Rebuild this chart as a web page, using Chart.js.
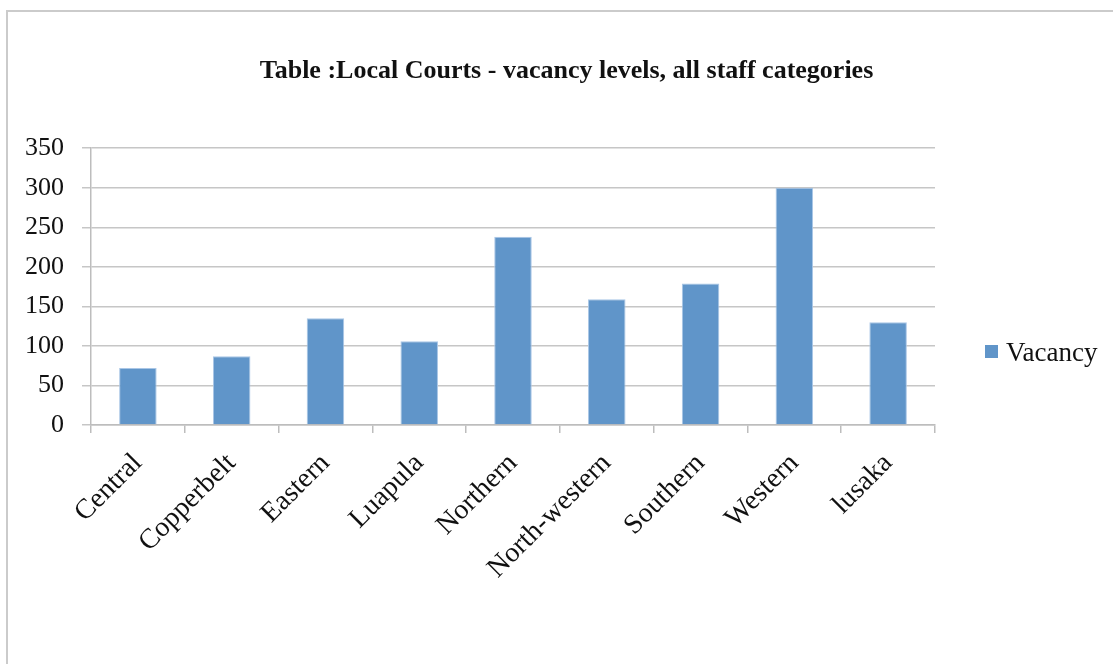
<!DOCTYPE html>
<html>
<head>
<meta charset="utf-8">
<title>Local Courts - vacancy levels</title>
<script src="https://cdn.jsdelivr.net/npm/chart.js@4.4.0/dist/chart.umd.min.js"></script>
<style>
  html, body { margin: 0; padding: 0; background: #fff; }
  #wrap { position: relative; width: 1113px; height: 664px; overflow: hidden; }
  #frame {
    position: absolute; left: 6px; top: 10px; width: 1200px; height: 800px;
    border-top: 2px solid #cbcbcb; border-left: 2px solid #cbcbcb;
  }
  canvas { position: absolute; left: 0; top: 0; }
</style>
</head>
<body>
<div id="wrap">
  <div id="frame"></div>
  <canvas id="vacancy-chart" width="1113" height="664"></canvas>
</div>
<script>
const provinces = ["Central", "Copperbelt", "Eastern", "Luapula", "Northern", "North-western", "Southern", "Western", "lusaka"];
const vacancies = [72, 87, 135, 106, 238, 159, 179, 300, 130];
const yTicks = [0, 50, 100, 150, 200, 250, 300, 350];
const seriesName = "Vacancy";
const titleText = "Table :Local Courts - vacancy levels, all staff categories";

const serif = "'Liberation Serif', 'DejaVu Serif', serif";
const barBlue = "#6095c9";

// single legend entry in the empty column right of the plot
const sideLegend = {
  id: 'sideLegend',
  afterDraw(chart) {
    const ctx = chart.ctx;
    const ds = chart.data.datasets[0];
    const x = chart.chartArea.right + 50;
    const y = 352;
    ctx.save();
    ctx.fillStyle = ds.backgroundColor;
    ctx.fillRect(x, y - 7, 13, 13);
    ctx.fillStyle = '#111';
    ctx.font = '27px ' + serif;
    ctx.textBaseline = 'middle';
    ctx.fillText(ds.label, x + 21, y + 2);
    ctx.restore();
  }
};

new Chart(document.getElementById('vacancy-chart').getContext('2d'), {
  type: 'bar',
  data: {
    labels: provinces,
    datasets: [{
      label: seriesName,
      data: vacancies,
      backgroundColor: barBlue,
      borderColor: '#a9c6e6',
      borderWidth: 1,
      barPercentage: 0.4,
      categoryPercentage: 1.0
    }]
  },
  options: {
    responsive: false,
    animation: false,
    layout: { padding: { left: 20, right: 0, top: 0, bottom: 0 } },
    plugins: {
      legend: { display: false },
      tooltip: { enabled: false },
      title: {
        display: true,
        text: titleText,
        color: '#111',
        font: { family: serif, size: 26, weight: 'bold' },
        padding: { top: 56, bottom: 61 }
      }
    },
    scales: {
      x: {
        offset: true,
        grid: {
          offset: true,
          drawOnChartArea: false,
          drawTicks: true,
          tickLength: 8,
          color: '#bdbdbd',
          lineWidth: 1.5
        },
        border: { color: '#bdbdbd', width: 1.5 },
        ticks: {
          minRotation: 45,
          maxRotation: 45,
          autoSkip: false,
          padding: 14,
          color: '#111',
          font: { family: serif, size: 28 }
        },
        afterFit(scale) { scale.height = 239; }
      },
      y: {
        min: 0,
        max: 350,
        afterBuildTicks(scale) { scale.ticks = yTicks.map(v => ({ value: v })); },
        grid: {
          color: '#c6c6c6',
          lineWidth: 1.5,
          drawTicks: true,
          tickLength: 9
        },
        border: { color: '#bdbdbd', width: 1.5 },
        ticks: {
          padding: 18,
          color: '#111',
          font: { family: serif, size: 26 }
        },
        afterFit(scale) { scale.width = 71; }
      },
      // empty column on the right that holds the legend
      side: {
        position: 'right',
        display: true,
        min: 0,
        max: 1,
        grid: { display: false },
        border: { display: false },
        ticks: { display: false },
        afterFit(scale) { scale.width = 178; }
      }
    }
  },
  plugins: [sideLegend]
});
</script>
</body>
</html>
